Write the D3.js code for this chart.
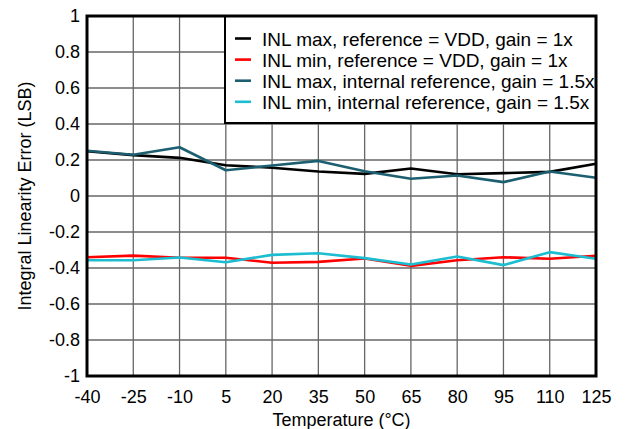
<!DOCTYPE html>
<html>
<head>
<meta charset="utf-8">
<script src="https://cdn.jsdelivr.net/npm/d3@7"></script>
<style>
  body { margin: 0; background: #fff; }
  text { font-family: "Liberation Sans", Arial, Helvetica, sans-serif; fill: #000; }
</style>
</head>
<body>
<div id="chart"></div>
<script>
// temperatures (°C)
var temps = [-40, -25, -10, 5, 20, 35, 50, 65, 80, 95, 110, 125];
var yTicks = [-1, -0.8, -0.6, -0.4, -0.2, 0, 0.2, 0.4, 0.6, 0.8, 1];

var inlMaxVdd = [0.249, 0.227, 0.212, 0.171, 0.157, 0.136, 0.123, 0.153, 0.121, 0.127, 0.134, 0.179];
var inlMinVdd = [-0.340, -0.331, -0.343, -0.343, -0.371, -0.366, -0.347, -0.388, -0.357, -0.340, -0.349, -0.332];
var inlMaxInt = [0.251, 0.229, 0.271, 0.143, 0.169, 0.195, 0.138, 0.096, 0.114, 0.077, 0.136, 0.101];
var inlMinInt = [-0.357, -0.357, -0.342, -0.368, -0.327, -0.318, -0.345, -0.381, -0.336, -0.384, -0.312, -0.349];

var seriesNames = [
    "INL max, reference = VDD, gain = 1x",
    "INL min, reference = VDD, gain = 1x",
    "INL max, internal reference, gain = 1.5x",
    "INL min, internal reference, gain = 1.5x"
];
var seriesColors = ["#000000", "#ff0000", "#1c5f70", "#1cbdd0"];
var seriesValues = [inlMaxVdd, inlMinVdd, inlMaxInt, inlMinInt];

var svgWidth = 626;
var svgHeight = 429;
var margin = { top: 16, right: 30, bottom: 53, left: 87 };
var width = svgWidth - margin.left - margin.right;
var height = svgHeight - margin.top - margin.bottom;

var svg = d3.select("#chart")
    .append("svg")
    .attr("width", svgWidth)
    .attr("height", svgHeight);

var chartGroup = svg.append("g")
    .attr("transform", `translate(${margin.left}, ${margin.top})`);

var xScale = d3.scaleLinear()
    .domain([-40, 125])
    .range([0, width]);

var yScale = d3.scaleLinear()
    .domain([-1, 1])
    .range([height, 0]);

// gridlines
chartGroup.append("g")
    .selectAll("line")
    .data(temps)
    .enter()
    .append("line")
    .attr("x1", d => xScale(d))
    .attr("x2", d => xScale(d))
    .attr("y1", 0)
    .attr("y2", height)
    .attr("stroke", "#666")
    .attr("stroke-width", 1.3);

chartGroup.append("g")
    .selectAll("line")
    .data(yTicks)
    .enter()
    .append("line")
    .attr("x1", 0)
    .attr("x2", width)
    .attr("y1", d => yScale(d))
    .attr("y2", d => yScale(d))
    .attr("stroke", "#666")
    .attr("stroke-width", 1.3);

// axes (plain hyphen minus like the original)
var bottomAxis = d3.axisBottom(xScale).tickValues(temps).tickSize(0).tickPadding(14)
    .tickFormat(d => String(d));
var leftAxis = d3.axisLeft(yScale).tickValues(yTicks).tickSize(0).tickPadding(7)
    .tickFormat(d => String(+d.toFixed(1)));

chartGroup.append("g")
    .attr("transform", `translate(0, ${height})`)
    .call(bottomAxis)
    .call(g => g.select(".domain").remove())
    .selectAll("text")
    .attr("font-size", "18px")
    .style("font-family", "'Liberation Sans', Arial, sans-serif");

chartGroup.append("g")
    .call(leftAxis)
    .call(g => g.select(".domain").remove())
    .selectAll("text")
    .attr("font-size", "18px")
    .style("font-family", "'Liberation Sans', Arial, sans-serif");

// series lines
var line = d3.line()
    .x((d, i) => xScale(temps[i]))
    .y(d => yScale(d));

chartGroup.selectAll(".series")
    .data(seriesValues)
    .enter()
    .append("path")
    .attr("class", "series")
    .attr("d", d => line(d))
    .attr("fill", "none")
    .attr("stroke", (d, i) => seriesColors[i])
    .attr("stroke-width", 2.6)
    .attr("stroke-linejoin", "round");

// legend
var legend = chartGroup.append("g")
    .attr("transform", `translate(${xScale(-40) + 138}, 0)`);

legend.append("rect")
    .attr("x", 0)
    .attr("y", 0)
    .attr("width", width - 138)
    .attr("height", 107)
    .attr("fill", "#fff")
    .attr("stroke", "#000")
    .attr("stroke-width", 2);

var legendRows = legend.selectAll(".leg")
    .data(seriesNames)
    .enter()
    .append("g")
    .attr("transform", (d, i) => `translate(0, ${22.5 + i * 21.1})`);

legendRows.append("line")
    .attr("x1", 10)
    .attr("x2", 26)
    .attr("y1", 0)
    .attr("y2", 0)
    .attr("stroke", (d, i) => seriesColors[i])
    .attr("stroke-width", 2.6);

legendRows.append("text")
    .attr("x", 37)
    .attr("y", 7)
    .attr("font-size", "19px")
    .text(d => d);

// frame
chartGroup.append("rect")
    .attr("width", width)
    .attr("height", height)
    .attr("fill", "none")
    .attr("stroke", "#000")
    .attr("stroke-width", 3);

// axis labels
svg.append("text")
    .attr("transform", `translate(31, ${margin.top + height / 2}) rotate(-90)`)
    .attr("text-anchor", "middle")
    .attr("font-size", "18px")
    .text("Integral Linearity Error (LSB)");

svg.append("text")
    .attr("x", margin.left + width / 2)
    .attr("y", 426)
    .attr("text-anchor", "middle")
    .attr("font-size", "18px")
    .text("Temperature (°C)");
</script>
</body>
</html>
